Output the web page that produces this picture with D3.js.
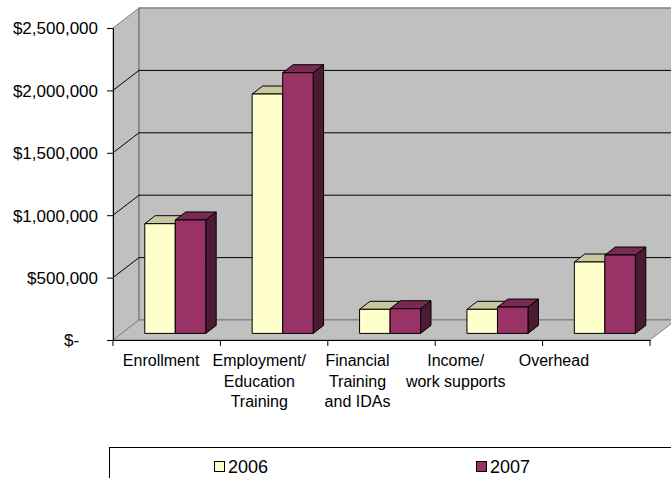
<!DOCTYPE html>
<html>
<head>
<meta charset="utf-8">
<script src="https://cdn.jsdelivr.net/npm/d3@7"></script>
<style>
  html, body { margin: 0; padding: 0; background: #fff; }
  svg { display: block; font-family: "Liberation Sans", Arial, sans-serif; }
</style>
</head>
<body>
<svg id="chart" width="671" height="478"></svg>
<script>
// ---------- data ----------
const categoryLines = [
  ["Enrollment"],
  ["Employment/", "Education", "Training"],
  ["Financial", "Training", "and IDAs"],
  ["Income/", "work supports"],
  ["Overhead"]
];
const categories = categoryLines.map(l => l.join(" "));
const seriesNames = ["2006", "2007"];
const values2006 = [879000, 1918000, 193000, 193000, 572000];
const values2007 = [909000, 2089000, 198000, 211000, 628000];
const yTicks = [0, 500000, 1000000, 1500000, 2000000, 2500000];

// ---------- layout ----------
const svg = d3.select("#chart");
const X0 = 113, X1 = 650, YB = 340, YT = 28;
const DX = 26, DY = -20;            // floor depth vector
const barF = 0.33, barD = 0.4;      // bar front depth fraction, bar depth fraction

const x = d3.scaleBand().domain(categories).range([X0, X1]).paddingInner(0).paddingOuter(0);
const xs = d3.scaleBand().domain(seriesNames).range([0, x.bandwidth()]).paddingInner(0).paddingOuter(0.76);
const y = d3.scaleLinear().domain([0, 2500000]).range([YB, YT]);
const xl = d3.scaleBand().domain(categories).range([112, 603]);

const colors = {
  "2006": { front: "#FFFFCC", top: "#C8C8A0", side: "#9A9A70" },
  "2007": { front: "#993366", top: "#7A2952", side: "#4D1A33" }
};

const pt = p => p.map(q => q.join(",")).join(" ");

// walls
const yMax = y(2500000);
svg.append("polygon").attr("points", pt([[X0, YB], [X0 + DX, YB + DY], [X0 + DX, yMax + DY], [X0, yMax]]))
  .attr("fill", "#C0C0C0").attr("stroke", "#808080").attr("stroke-width", 1);
svg.append("polygon").attr("points", pt([[X0 + DX, YB + DY], [X1 + DX, YB + DY], [X1 + DX, yMax + DY], [X0 + DX, yMax + DY]]))
  .attr("fill", "#C0C0C0").attr("stroke", "#808080").attr("stroke-width", 1.5);
svg.append("polygon").attr("points", pt([[X0, YB], [X1, YB], [X1 + DX, YB + DY], [X0 + DX, YB + DY]]))
  .attr("fill", "#C0C0C0").attr("stroke", "#808080").attr("stroke-width", 1);

// gridlines
const grid = yTicks.filter(v => v > 0 && v < 2500000);
grid.forEach(v => {
  svg.append("line").attr("x1", X0 + DX).attr("x2", X1 + DX)
    .attr("y1", y(v) + DY).attr("y2", y(v) + DY).attr("stroke", "#000").attr("stroke-width", 1);
  svg.append("line").attr("x1", X0).attr("x2", X0 + DX)
    .attr("y1", y(v)).attr("y2", y(v) + DY).attr("stroke", "#000").attr("stroke-width", 1);
});

// y axis
const fmt = v => v === 0 ? "$-\u2007\u2007" : "$" + d3.format(",")(v);
const yAxis = d3.axisLeft(y).tickValues(yTicks).tickFormat(fmt).tickSize(6).tickPadding(9);
const gy = svg.append("g").attr("transform", `translate(${X0},0)`).call(yAxis);
gy.select(".domain").attr("stroke", "#000");
gy.selectAll(".tick line").attr("stroke", "#000");
gy.selectAll(".tick text").attr("font-size", 17).attr("fill", "#000")
  .attr("font-family", "Liberation Sans, Arial, sans-serif").attr("dy", "0.35em");

// x axis
const xAxis = d3.axisBottom(x).tickValues([]).tickSizeOuter(0);
const gx = svg.append("g").attr("transform", `translate(0,${YB})`).call(xAxis);
gx.select(".domain").attr("stroke", "#000");
const bounds = categories.map(c => x(c)).concat([X1]);
gx.selectAll("line.tk").data(bounds).join("line").attr("class", "tk")
  .attr("x1", d => d).attr("x2", d => d).attr("y1", 0).attr("y2", 6).attr("stroke", "#000");

// bars
const fdx = barF * DX, fdy = barF * DY, bdx = barD * DX, bdy = barD * DY;
const series = [
  { name: "2006", values: values2006 },
  { name: "2007", values: values2007 }
];
categories.forEach((c, i) => {
  series.forEach(s => {
    const col = colors[s.name];
    const xl0 = x(c) + xs(s.name) + fdx;
    const xr0 = xl0 + xs.bandwidth();
    const yb = y(0) + fdy;
    const yt = y(s.values[i]) + fdy;
    const g = svg.append("g").attr("stroke", "#000").attr("stroke-width", 1).attr("stroke-linejoin", "round");
    g.append("polygon").attr("points", pt([[xr0, yb], [xr0 + bdx, yb + bdy], [xr0 + bdx, yt + bdy], [xr0, yt]]))
      .attr("fill", col.side);
    g.append("polygon").attr("points", pt([[xl0, yt], [xr0, yt], [xr0 + bdx, yt + bdy], [xl0 + bdx, yt + bdy]]))
      .attr("fill", col.top);
    g.append("rect").attr("x", xl0).attr("y", yt).attr("width", xr0 - xl0).attr("height", yb - yt)
      .attr("fill", col.front);
  });
});

// category labels
categoryLines.forEach((lines, i) => {
  const cx = xl(categories[i]) + xl.bandwidth() / 2;
  const t = svg.append("text").attr("text-anchor", "middle").attr("font-size", 16).attr("fill", "#000")
    .attr("x", cx).attr("y", 366);
  lines.forEach((ln, j) => {
    t.append("tspan").attr("x", cx).attr("y", 366 + j * 20.5).text(ln);
  });
});

// legend
svg.append("rect").attr("x", 109.5).attr("y", 447.5).attr("width", 600).attr("height", 60)
  .attr("fill", "#fff").attr("stroke", "#000").attr("stroke-width", 1);
const legX = d3.scalePoint().domain(seriesNames).range([214, 476]);
seriesNames.forEach(n => {
  svg.append("rect").attr("x", legX(n) + 0.5).attr("y", 461.5).attr("width", 10).attr("height", 10)
    .attr("fill", colors[n].front).attr("stroke", "#000").attr("stroke-width", 1);
  svg.append("text").attr("x", legX(n) + 14).attr("y", 472.5).attr("font-size", 18).attr("fill", "#000").text(n);
});
</script>
</body>
</html>
